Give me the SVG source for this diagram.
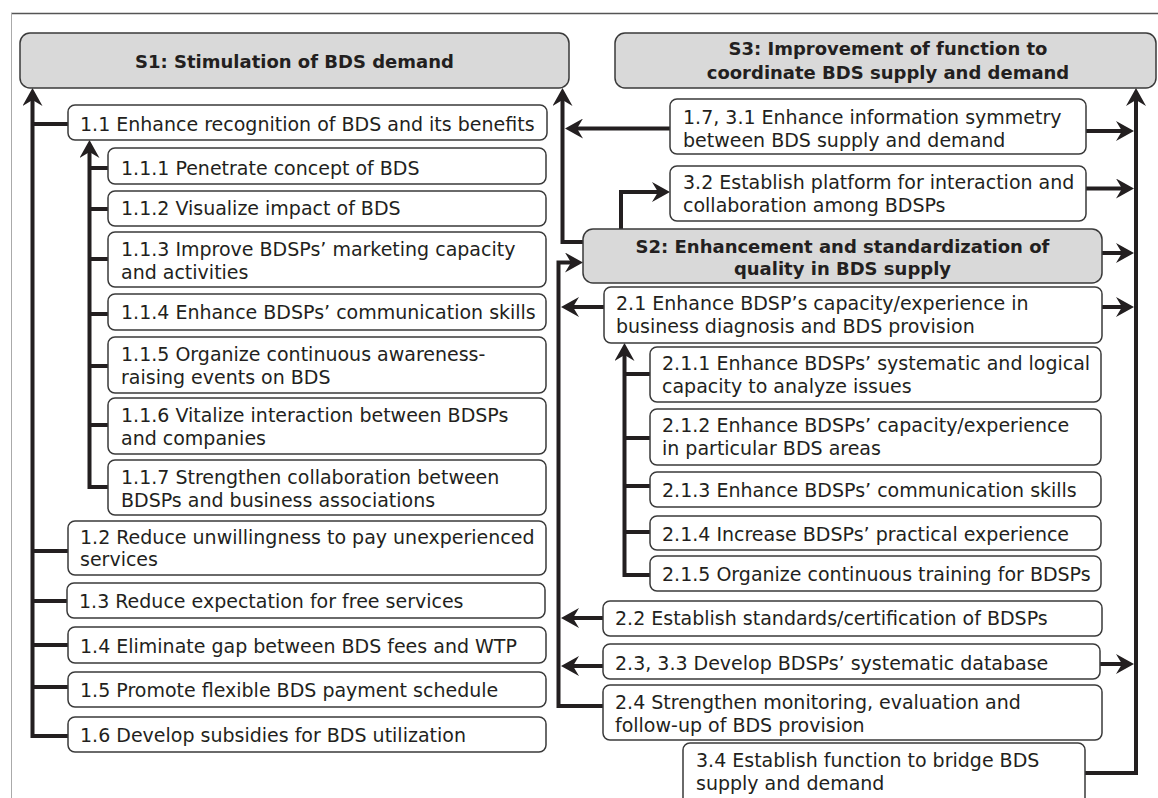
<svg xmlns="http://www.w3.org/2000/svg" width="1158" height="798" viewBox="0 0 1158 798">
  <style>
    .box { fill: #ffffff; stroke: #3a3a3a; stroke-width: 1.5; }
    .sbox { fill: #d9d9d9; stroke: #3a3a3a; stroke-width: 1.5; }
    .t { font-family: "DejaVu Sans", Verdana, sans-serif; font-size: 19px; fill: #231f20; }
    .h { font-family: "DejaVu Sans", Verdana, sans-serif; font-size: 18px; font-weight: bold; fill: #231f20; text-anchor: middle; }
    .ln { fill: none; stroke: #231f20; stroke-width: 4; }
    .ar { fill: none; stroke: #231f20; stroke-width: 4; marker-end: url(#ah); }
  </style>
  <defs>
    <marker id="ah" viewBox="0 -10 22 20" markerWidth="22" markerHeight="20" refX="16" refY="0" orient="auto" markerUnits="userSpaceOnUse">
      <path d="M22,0 L4,-10 L10,0 L4,10 Z" fill="#231f20"/>
    </marker>
  </defs>

  <!-- frame -->
  <line x1="11" y1="13.5" x2="1158" y2="13.5" stroke="#555" stroke-width="1.3"/>
  <line x1="11.5" y1="13" x2="11.5" y2="798" stroke="#aaa" stroke-width="1"/>

  <!-- connectors -->
  <g id="connectors">
    <!-- S1 column trunk -->
    <path class="ar" d="M68,736 H32.5 V94"/>
    <path class="ln" d="M32.5,124 H68 M32.5,551 H68 M32.5,601 H68 M32.5,645 H68 M32.5,687 H68"/>
    <!-- 1.1 sub-trunk -->
    <path class="ar" d="M108,487 H89.5 V146"/>
    <path class="ln" d="M89.5,168 H108 M89.5,209 H108 M89.5,259 H108 M89.5,314 H108 M89.5,366 H108 M89.5,425 H108"/>
    <!-- S2 to S1 -->
    <path class="ar" d="M583,242 H562.5 V94"/>
    <path class="ar" d="M670,128.5 H571"/>
    <!-- S2 trunk -->
    <path class="ar" d="M603,706 H558.5 V262.5 H577"/>
    <path class="ar" d="M604,307 H567"/>
    <path class="ar" d="M603,618 H567"/>
    <path class="ar" d="M603,666 H567"/>
    <!-- S2 to 3.2 -->
    <path class="ar" d="M621,229 V192 H664"/>
    <!-- S3 trunk -->
    <path class="ar" d="M1085,773 H1136 V94"/>
    <path class="ar" d="M1086,131 H1128"/>
    <path class="ar" d="M1086,188.5 H1128"/>
    <path class="ar" d="M1102,253 H1128"/>
    <path class="ar" d="M1102,307 H1128"/>
    <path class="ar" d="M1100,664 H1128"/>
    <!-- 2.1 sub-trunk -->
    <path class="ar" d="M650,575 H624.5 V349"/>
    <path class="ln" d="M624.5,374 H650 M624.5,438 H650 M624.5,486 H650 M624.5,532 H650"/>
  </g>

  <!-- S1 column -->
  <g id="S1">
    <rect class="sbox" x="20" y="33" width="549" height="55" rx="10"/>
    <text class="h" x="294.5" y="68">S1: Stimulation of BDS demand</text>
  </g>
  <g id="n1_1">
    <rect class="box" x="68" y="105" width="479" height="35" rx="7"/>
    <text class="t" x="80" y="131">1.1 Enhance recognition of BDS and its benefits</text>
  </g>
  <g id="n1_1_1">
    <rect class="box" x="108" y="148" width="438" height="36" rx="7"/>
    <text class="t" x="121" y="175">1.1.1 Penetrate concept of BDS</text>
  </g>
  <g id="n1_1_2">
    <rect class="box" x="108" y="191" width="438" height="35" rx="7"/>
    <text class="t" x="121" y="215">1.1.2 Visualize impact of BDS</text>
  </g>
  <g id="n1_1_3">
    <rect class="box" x="108" y="232" width="438" height="55" rx="7"/>
    <text class="t" x="121" y="256">1.1.3 Improve BDSPs’ marketing capacity</text>
    <text class="t" x="121" y="278.5">and activities</text>
  </g>
  <g id="n1_1_4">
    <rect class="box" x="108" y="294" width="438" height="36" rx="7"/>
    <text class="t" x="121" y="319">1.1.4 Enhance BDSPs’ communication skills</text>
  </g>
  <g id="n1_1_5">
    <rect class="box" x="108" y="337" width="438" height="56" rx="7"/>
    <text class="t" x="121" y="361">1.1.5 Organize continuous awareness-</text>
    <text class="t" x="121" y="383.5">raising events on BDS</text>
  </g>
  <g id="n1_1_6">
    <rect class="box" x="108" y="398" width="438" height="56" rx="7"/>
    <text class="t" x="121" y="422">1.1.6 Vitalize interaction between BDSPs</text>
    <text class="t" x="121" y="445">and companies</text>
  </g>
  <g id="n1_1_7">
    <rect class="box" x="108" y="460" width="438" height="55" rx="7"/>
    <text class="t" x="121" y="484">1.1.7 Strengthen collaboration between</text>
    <text class="t" x="121" y="507">BDSPs and business associations</text>
  </g>
  <g id="n1_2">
    <rect class="box" x="68" y="521" width="478" height="54" rx="7"/>
    <text class="t" x="80" y="543.5">1.2 Reduce unwillingness to pay unexperienced</text>
    <text class="t" x="80" y="566">services</text>
  </g>
  <g id="n1_3">
    <rect class="box" x="67" y="583" width="478" height="35" rx="7"/>
    <text class="t" x="79" y="608">1.3 Reduce expectation for free services</text>
  </g>
  <g id="n1_4">
    <rect class="box" x="68" y="627" width="478" height="36" rx="7"/>
    <text class="t" x="80" y="652.5">1.4 Eliminate gap between BDS fees and WTP</text>
  </g>
  <g id="n1_5">
    <rect class="box" x="68" y="672" width="478" height="35" rx="7"/>
    <text class="t" x="80" y="696.5">1.5 Promote flexible BDS payment schedule</text>
  </g>
  <g id="n1_6">
    <rect class="box" x="68" y="717" width="478" height="35" rx="7"/>
    <text class="t" x="80" y="742">1.6 Develop subsidies for BDS utilization</text>
  </g>

  <!-- S3 and S2 column -->
  <g id="S3">
    <rect class="sbox" x="615" y="33" width="541" height="55" rx="10"/>
    <text class="h" x="888" y="55">S3: Improvement of function to</text>
    <text class="h" x="888" y="79">coordinate BDS supply and demand</text>
  </g>
  <g id="n1_7_3_1">
    <rect class="box" x="670" y="99" width="416" height="55" rx="7"/>
    <text class="t" x="683" y="124">1.7, 3.1 Enhance information symmetry</text>
    <text class="t" x="683" y="146.5">between BDS supply and demand</text>
  </g>
  <g id="n3_2">
    <rect class="box" x="670" y="166" width="416" height="55" rx="7"/>
    <text class="t" x="683" y="189">3.2 Establish platform for interaction and</text>
    <text class="t" x="683" y="211.5">collaboration among BDSPs</text>
  </g>
  <g id="S2">
    <rect class="sbox" x="583" y="229" width="519" height="54" rx="10"/>
    <text class="h" x="842.5" y="252.5">S2: Enhancement and standardization of</text>
    <text class="h" x="842.5" y="275">quality in BDS supply</text>
  </g>
  <g id="n2_1">
    <rect class="box" x="604" y="287" width="498" height="56" rx="7"/>
    <text class="t" x="616" y="310">2.1 Enhance BDSP’s capacity/experience in</text>
    <text class="t" x="616" y="332.5">business diagnosis and BDS provision</text>
  </g>
  <g id="n2_1_1">
    <rect class="box" x="650" y="347" width="451" height="55" rx="7"/>
    <text class="t" x="662" y="370">2.1.1 Enhance BDSPs’ systematic and logical</text>
    <text class="t" x="662" y="392.5">capacity to analyze issues</text>
  </g>
  <g id="n2_1_2">
    <rect class="box" x="650" y="409" width="451" height="56" rx="7"/>
    <text class="t" x="662" y="431.5">2.1.2 Enhance BDSPs’ capacity/experience</text>
    <text class="t" x="662" y="455">in particular BDS areas</text>
  </g>
  <g id="n2_1_3">
    <rect class="box" x="650" y="472" width="451" height="35" rx="7"/>
    <text class="t" x="662" y="496.5">2.1.3 Enhance BDSPs’ communication skills</text>
  </g>
  <g id="n2_1_4">
    <rect class="box" x="650" y="516" width="451" height="34" rx="7"/>
    <text class="t" x="662" y="540.5">2.1.4 Increase BDSPs’ practical experience</text>
  </g>
  <g id="n2_1_5">
    <rect class="box" x="650" y="556" width="451" height="35" rx="7"/>
    <text class="t" x="662" y="580.5">2.1.5 Organize continuous training for BDSPs</text>
  </g>
  <g id="n2_2">
    <rect class="box" x="603" y="601" width="499" height="35" rx="7"/>
    <text class="t" x="615" y="625">2.2 Establish standards/certification of BDSPs</text>
  </g>
  <g id="n2_3_3_3">
    <rect class="box" x="603" y="644" width="497" height="35" rx="7"/>
    <text class="t" x="615" y="670">2.3, 3.3 Develop BDSPs’ systematic database</text>
  </g>
  <g id="n2_4">
    <rect class="box" x="603" y="685" width="499" height="55" rx="7"/>
    <text class="t" x="615" y="708.5">2.4 Strengthen monitoring, evaluation and</text>
    <text class="t" x="615" y="731.5">follow-up of BDS provision</text>
  </g>
  <g id="n3_4">
    <rect class="box" x="683" y="743" width="402" height="64" rx="7"/>
    <text class="t" x="696" y="767">3.4 Establish function to bridge BDS</text>
    <text class="t" x="696" y="790">supply and demand</text>
  </g>
</svg>
